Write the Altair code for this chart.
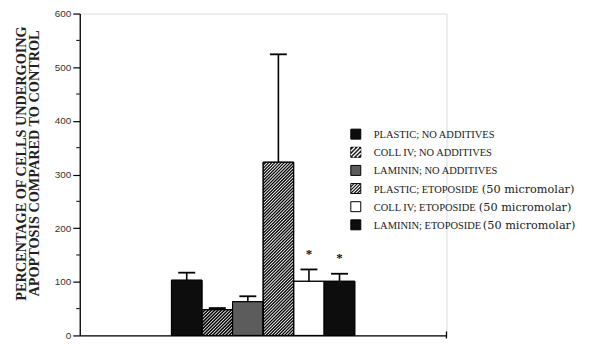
import altair as alt
import pandas as pd
import numpy as np

# ---------------- data ----------------
categories = [
    "PLASTIC; NO ADDITIVES",
    "COLL IV; NO ADDITIVES",
    "LAMININ; NO ADDITIVES",
    "PLASTIC; ETOPOSIDE (50 micromolar)",
    "COLL IV; ETOPOSIDE (50 micromolar)",
    "LAMININ; ETOPOSIDE (50 micromolar)",
]
means = [103, 48, 63, 323, 101, 101]
err_upper = [117, 51, 73, 524, 123, 115]
star_y = [None, None, None, None, 157, 149]
y_ticks = [0, 100, 200, 300, 400, 500, 600]
y_minor = [50, 150, 250, 350, 450, 550]

# ---------------- styles ----------------
fills = ["#0d0d0d", "#ffffff", "#5c5c5c", "#ffffff", "#ffffff", "#0d0d0d"]
hatch = [None, (3.3, 1.6), None, (3.1, 1.3), None, None]  # (spacing px, line width)
legend_fill = ["#0d0d0d", "#1e1e1e", "#5c5c5c", "#ffffff", "#ffffff", "#0d0d0d"]
legend_hatch = [None, ("#ffffff", 4.0, 1.3), None, ("#111111", 3.3, 1.2), None, None]
# x (plot px) where the lower-case "(…)" part of a legend label starts
suffix_x = [None, None, None, 403.5, 400.5, 404.5]

W, H = 368, 323
PAD_SLOTS = 3
N_SLOTS = len(categories) + 2 * PAD_SLOTS
Y_MAX = 600
kx = W / N_SLOTS
ky = H / Y_MAX

bars = pd.DataFrame({
    "cat": categories,
    "x0": list(range(len(categories))),
    "x1": [i + 1 for i in range(len(categories))],
    "xc": [i + 0.5 for i in range(len(categories))],
    "mean": means,
    "hi": err_upper,
    "fill": fills,
})
bars["base"] = 0
cap_half = 8.5 / kx
bars["cl"] = bars["xc"] - cap_half
bars["cr"] = bars["xc"] + cap_half


def hatch_segments(x0, x1, h, s):
    """45 degree '/' lines clipped to the rectangle [x0,x1] x [0,h] (pixels)."""
    segs = []
    c = x0 - h
    while c < x1:
        lo = max(0.0, x0 - c)
        hi = min(h, x1 - c)
        if hi > lo:
            segs.append((c + lo, lo, c + hi, hi))
        c += s
    return segs


hrows = []
for i, hs in enumerate(hatch):
    if hs is None:
        continue
    s, lw = hs
    X0 = (i + PAD_SLOTS) * kx
    X1 = X0 + kx
    for (ax, ay, bx, by) in hatch_segments(X0, X1, means[i] * ky, s):
        hrows.append({
            "hx": ax / kx - PAD_SLOTS, "hy": ay / ky,
            "hx2": bx / kx - PAD_SLOTS, "hy2": by / ky, "lw": lw,
        })
hatch_df = pd.DataFrame(hrows)

stars = pd.DataFrame({"xc": bars["xc"], "sy": star_y}).dropna()
minor_df = pd.DataFrame({"v": y_minor})

# ---------------- legend (pixel coordinates of the plot area) ----------------
LEG_X = 272
LEG_Y0 = 121
LEG_DY = 18.2
SW = 10
main_part = [c.split(" (")[0] for c in categories]
tail_part = ["(" + c.split(" (")[1] if " (" in c else "" for c in categories]
leg = pd.DataFrame({
    "label": main_part,
    "tail": tail_part,
    "sx": suffix_x,
    "i": list(range(len(categories))),
    "fill": legend_fill,
})
leg["py"] = LEG_Y0 + LEG_DY * leg["i"]
leg["base"] = leg["py"] + 4
leg["x0"] = LEG_X
leg["x1"] = LEG_X + SW
leg["y0"] = leg["py"] - SW / 2
leg["y1"] = leg["py"] + SW / 2
leg["tx"] = LEG_X + SW + 13
leg_tail = leg.dropna(subset=["sx"])

lrows = []
for i, hs in enumerate(legend_hatch):
    if hs is None:
        continue
    col, s, lw = hs
    x0 = LEG_X
    bottom = LEG_Y0 + LEG_DY * i + SW / 2
    for (ax, ay, bx, by) in hatch_segments(x0, x0 + SW, SW, s):
        lrows.append({"lx": ax, "ly": bottom - ay, "lx2": bx, "ly2": bottom - by,
                      "col": col, "lw": lw})
leg_hatch = pd.DataFrame(lrows)

# ---------------- chart ----------------
xscale = alt.Scale(domain=[-PAD_SLOTS, len(categories) + PAD_SLOTS], nice=False, zero=False)
yscale = alt.Scale(domain=[0, Y_MAX], nice=False)

xaxis = alt.Axis(labels=False, ticks=False, title=None, grid=False,
                 domainColor="#000000", domainWidth=1.3)
yaxis = alt.Axis(
    values=y_ticks, grid=False, tickSize=7, tickColor="#000000", tickWidth=1.2,
    domainColor="#000000", domainWidth=1.3,
    labelFont="Liberation Sans", labelFontSize=10, labelColor="#333333", labelPadding=2,
    title=["PERCENTAGE OF CELLS UNDERGOING", "APOPTOSIS COMPARED TO CONTROL"],
    titleFont="Liberation Serif", titleFontSize=14.3, titleFontWeight="bold",
    titleColor="#222222", titleAngle=270, titleAlign="center", titleBaseline="middle",
    titleLineHeight=12.5, titleX=-58, titleY=150,
)

bar_layer = alt.Chart(bars).mark_bar(stroke="#000000", strokeWidth=1).encode(
    x=alt.X("x0:Q", scale=xscale, axis=xaxis),
    x2="x1:Q",
    y=alt.Y("mean:Q", scale=yscale, axis=yaxis),
    y2="base:Q",
    fill=alt.Fill("fill:N", scale=None),
)

hatch_layer = alt.Chart(hatch_df).mark_rule(color="#000000", strokeCap="butt").encode(
    x="hx:Q", y="hy:Q", x2="hx2:Q", y2="hy2:Q",
    strokeWidth=alt.StrokeWidth("lw:Q", scale=None),
)

bar_outline = alt.Chart(bars).mark_bar(fillOpacity=0, stroke="#000000", strokeWidth=1).encode(
    x="x0:Q", x2="x1:Q", y="mean:Q", y2="base:Q",
)

err_layer = alt.Chart(bars).mark_rule(color="#000000", strokeWidth=1.6).encode(
    x="xc:Q", y="mean:Q", y2="hi:Q",
)
cap_layer = alt.Chart(bars).mark_rule(color="#000000", strokeWidth=1.8).encode(
    x="cl:Q", x2="cr:Q", y="hi:Q",
)

star_layer = alt.Chart(stars).mark_text(
    text="*", font="Liberation Serif", fontSize=13, fontWeight="bold",
    fill="#111111", baseline="middle", dy=3,
).encode(x="xc:Q", y="sy:Q")

minor_layer = alt.Chart(minor_df).mark_rule(color="#000000", strokeWidth=1).encode(
    x=alt.value(-3.5), x2=alt.value(0), y="v:Q",
)

end_tick = alt.Chart(pd.DataFrame({"v": [0]})).mark_rule(color="#000000", strokeWidth=1.3).encode(
    x=alt.value(W), y=alt.value(H - 4), y2=alt.value(H + 3),
)

leg_box = alt.Chart(leg).mark_rect(stroke="#000000", strokeWidth=1).encode(
    x=alt.X("x0:Q", scale=None), x2="x1:Q",
    y=alt.Y("y0:Q", scale=None), y2="y1:Q",
    fill=alt.Fill("fill:N", scale=None),
)
leg_lines = alt.Chart(leg_hatch).mark_rule(strokeCap="butt").encode(
    x=alt.X("lx:Q", scale=None), y=alt.Y("ly:Q", scale=None),
    x2="lx2:Q", y2="ly2:Q",
    color=alt.Color("col:N", scale=None),
    strokeWidth=alt.StrokeWidth("lw:Q", scale=None),
)
leg_text = alt.Chart(leg).mark_text(
    align="left", baseline="alphabetic", font="Liberation Serif", fontSize=10.5,
    fill="#222222",
).encode(
    x=alt.X("tx:Q", scale=None), y=alt.Y("base:Q", scale=None), text="label:N",
)
leg_tail_text = alt.Chart(leg_tail).mark_text(
    align="left", baseline="alphabetic", font="DejaVu Serif", fontSize=11.3,
    fill="#222222",
).encode(
    x=alt.X("sx:Q", scale=None), y=alt.Y("base:Q", scale=None), text="tail:N",
)

chart = alt.layer(
    bar_layer, hatch_layer, bar_outline, err_layer, cap_layer, star_layer,
    minor_layer, end_tick, leg_box, leg_lines, leg_text, leg_tail_text,
).properties(
    width=W, height=H,
    autosize=alt.AutoSizeParams(type="none"),
    padding={"left": 72, "top": 5, "right": 138, "bottom": 4},
).configure_view(stroke=None).configure(background="#ffffff")

chart.save("out.html", embed_options={"renderer": "svg", "actions": False})
